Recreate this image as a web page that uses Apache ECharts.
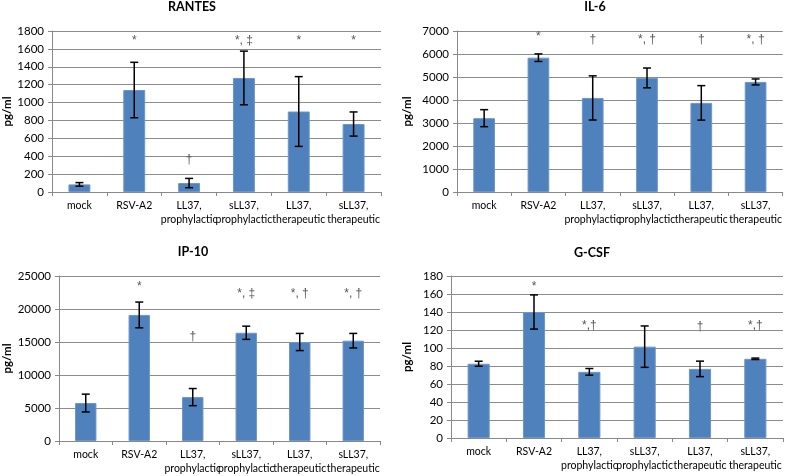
<!DOCTYPE html>
<html>
<head>
<meta charset="utf-8">
<script src="https://cdn.jsdelivr.net/npm/echarts@6/dist/echarts.min.js"></script>
<style>
  html, body { margin: 0; padding: 0; background: #fff; }
  #chart { width: 785px; height: 476px; }
</style>
</head>
<body>
<div id="chart"></div>
<script>
var categories = ['mock', 'RSV-A2', 'LL37,\nprophylactic', 'sLL37,\nprophylactic', 'LL37,\ntherapeutic', 'sLL37,\ntherapeutic'];

var rantesMean = [85, 1140, 100, 1275, 900, 760];
var rantesErr = [20, 310, 52, 300, 390, 135];
var rantesNote = ['', '*', '†', '*, ‡', '*', '*'];
var rantesNoteY = [null, 1690, 360, 1690, 1690, 1690];

var il6Mean = [3210, 5840, 4090, 4960, 3875, 4785];
var il6Err = [370, 165, 960, 430, 750, 130];
var il6Note = ['', '*', '†', '*, †', '†', '*, †'];
var il6NoteY = [null, 6750, 6620, 6620, 6620, 6620];

var ip10Mean = [5750, 19100, 6650, 16400, 15000, 15200];
var ip10Err = [1350, 1950, 1300, 1000, 1300, 1100];
var ip10Note = ['', '*', '†', '*, ‡', '*, †', '*, †'];
var ip10NoteY = [null, 23400, 15750, 22250, 22250, 22250];

var gcsfMean = [82.5, 140, 73.5, 101.5, 76.8, 88];
var gcsfErr = [2.8, 19, 3.7, 23, 8.6, 0.8];
var gcsfNote = ['', '*', '*,†', '', '†', '*,†'];
var gcsfNoteY = [null, 168, 125, null, 124, 125];

var panels = [
  { title: 'RANTES', mean: rantesMean, err: rantesErr, note: rantesNote, noteY: rantesNoteY,
    max: 1800, interval: 200, grid: { left: 52, top: 31, width: 329, height: 161 }, titleX: 192, titleY: 0, nameGap: 37 },
  { title: 'IL-6', mean: il6Mean, err: il6Err, note: il6Note, noteY: il6NoteY,
    max: 7000, interval: 1000, grid: { left: 457, top: 31, width: 326, height: 161 }, titleX: 595, titleY: 0, nameGap: 44 },
  { title: 'IP-10', mean: ip10Mean, err: ip10Err, note: ip10Note, noteY: ip10NoteY,
    max: 25000, interval: 5000, grid: { left: 53, top: 276, width: 327, height: 167 }, titleX: 193, titleY: 245, nameGap: 46 },
  { title: 'G-CSF', mean: gcsfMean, err: gcsfErr, note: gcsfNote, noteY: gcsfNoteY,
    max: 180, interval: 20, grid: { left: 451, top: 276, width: 332, height: 162 }, titleX: 592, titleY: 246, nameGap: 38 }
];

var font = 'Lato, Roboto, sans-serif';
var option = {
  animation: false,
  textStyle: { fontFamily: font },
  title: [], grid: [], xAxis: [], yAxis: [], series: []
};

panels.forEach(function (p, i) {
  option.title.push({
    text: p.title, left: p.titleX, top: p.titleY, textAlign: 'center', padding: 0,
    textStyle: { fontFamily: font, fontSize: 12.5, fontWeight: 'bold', color: '#000' }
  });
  option.grid.push(p.grid);
  option.xAxis.push({
    type: 'category', gridIndex: i, data: categories,
    axisLine: { lineStyle: { color: '#888' } },
    axisTick: { show: true, length: 4, lineStyle: { color: '#888' } },
    axisLabel: { interval: 0, color: '#000', fontSize: 10.5, margin: 7, lineHeight: 14 }
  });
  option.yAxis.push({
    type: 'value', gridIndex: i, min: 0, max: p.max, interval: p.interval,
    name: 'pg/ml', nameLocation: 'middle', nameGap: p.nameGap,
    nameTextStyle: { fontWeight: 'bold', fontSize: 11.5, color: '#000' },
    axisLine: { show: true, lineStyle: { color: '#888' } },
    axisTick: { show: true, length: 4, lineStyle: { color: '#888' } },
    axisLabel: { color: '#000', fontSize: 11.5, margin: 8, formatter: function (v) { return String(v); } },
    splitLine: { lineStyle: { color: '#8c8c8c', width: 1 } }
  });
  option.series.push({
    type: 'bar', xAxisIndex: i, yAxisIndex: i, data: p.mean, barWidth: '40%',
    itemStyle: { color: '#4f81bd', borderColor: '#6d96c9', borderWidth: 1 }
  });
  var errData = p.mean.map(function (m, k) { return [k, m - p.err[k], m + p.err[k]]; });
  option.series.push({
    type: 'custom', xAxisIndex: i, yAxisIndex: i, data: errData, z: 5,
    renderItem: function (params, api) {
      var lo = api.coord([api.value(0), api.value(1)]);
      var hi = api.coord([api.value(0), api.value(2)]);
      var w = 4;
      var st = { stroke: '#000', lineWidth: 1.5 };
      return { type: 'group', children: [
        { type: 'line', shape: { x1: hi[0], y1: hi[1], x2: lo[0], y2: lo[1] }, style: st },
        { type: 'line', shape: { x1: hi[0] - w, y1: hi[1], x2: hi[0] + w, y2: hi[1] }, style: st },
        { type: 'line', shape: { x1: lo[0] - w, y1: lo[1], x2: lo[0] + w, y2: lo[1] }, style: st }
      ]};
    }
  });
  var noteData = [];
  p.note.forEach(function (t, k) {
    if (t && p.noteY[k] != null) noteData.push([k, p.noteY[k], t]);
  });
  option.series.push({
    type: 'custom', xAxisIndex: i, yAxisIndex: i, data: noteData, z: 6,
    renderItem: function (params, api) {
      var pt = api.coord([api.value(0), api.value(1)]);
      return { type: 'text', x: pt[0], y: pt[1], style: {
        text: noteData[params.dataIndex][2], fill: '#555', font: '12px "Liberation Sans"',
        align: 'center', verticalAlign: 'middle'
      }};
    }
  });
});

var chart = echarts.init(document.getElementById('chart'));
chart.setOption(option);
window.onresize = chart.resize;
</script>
</body>
</html>
